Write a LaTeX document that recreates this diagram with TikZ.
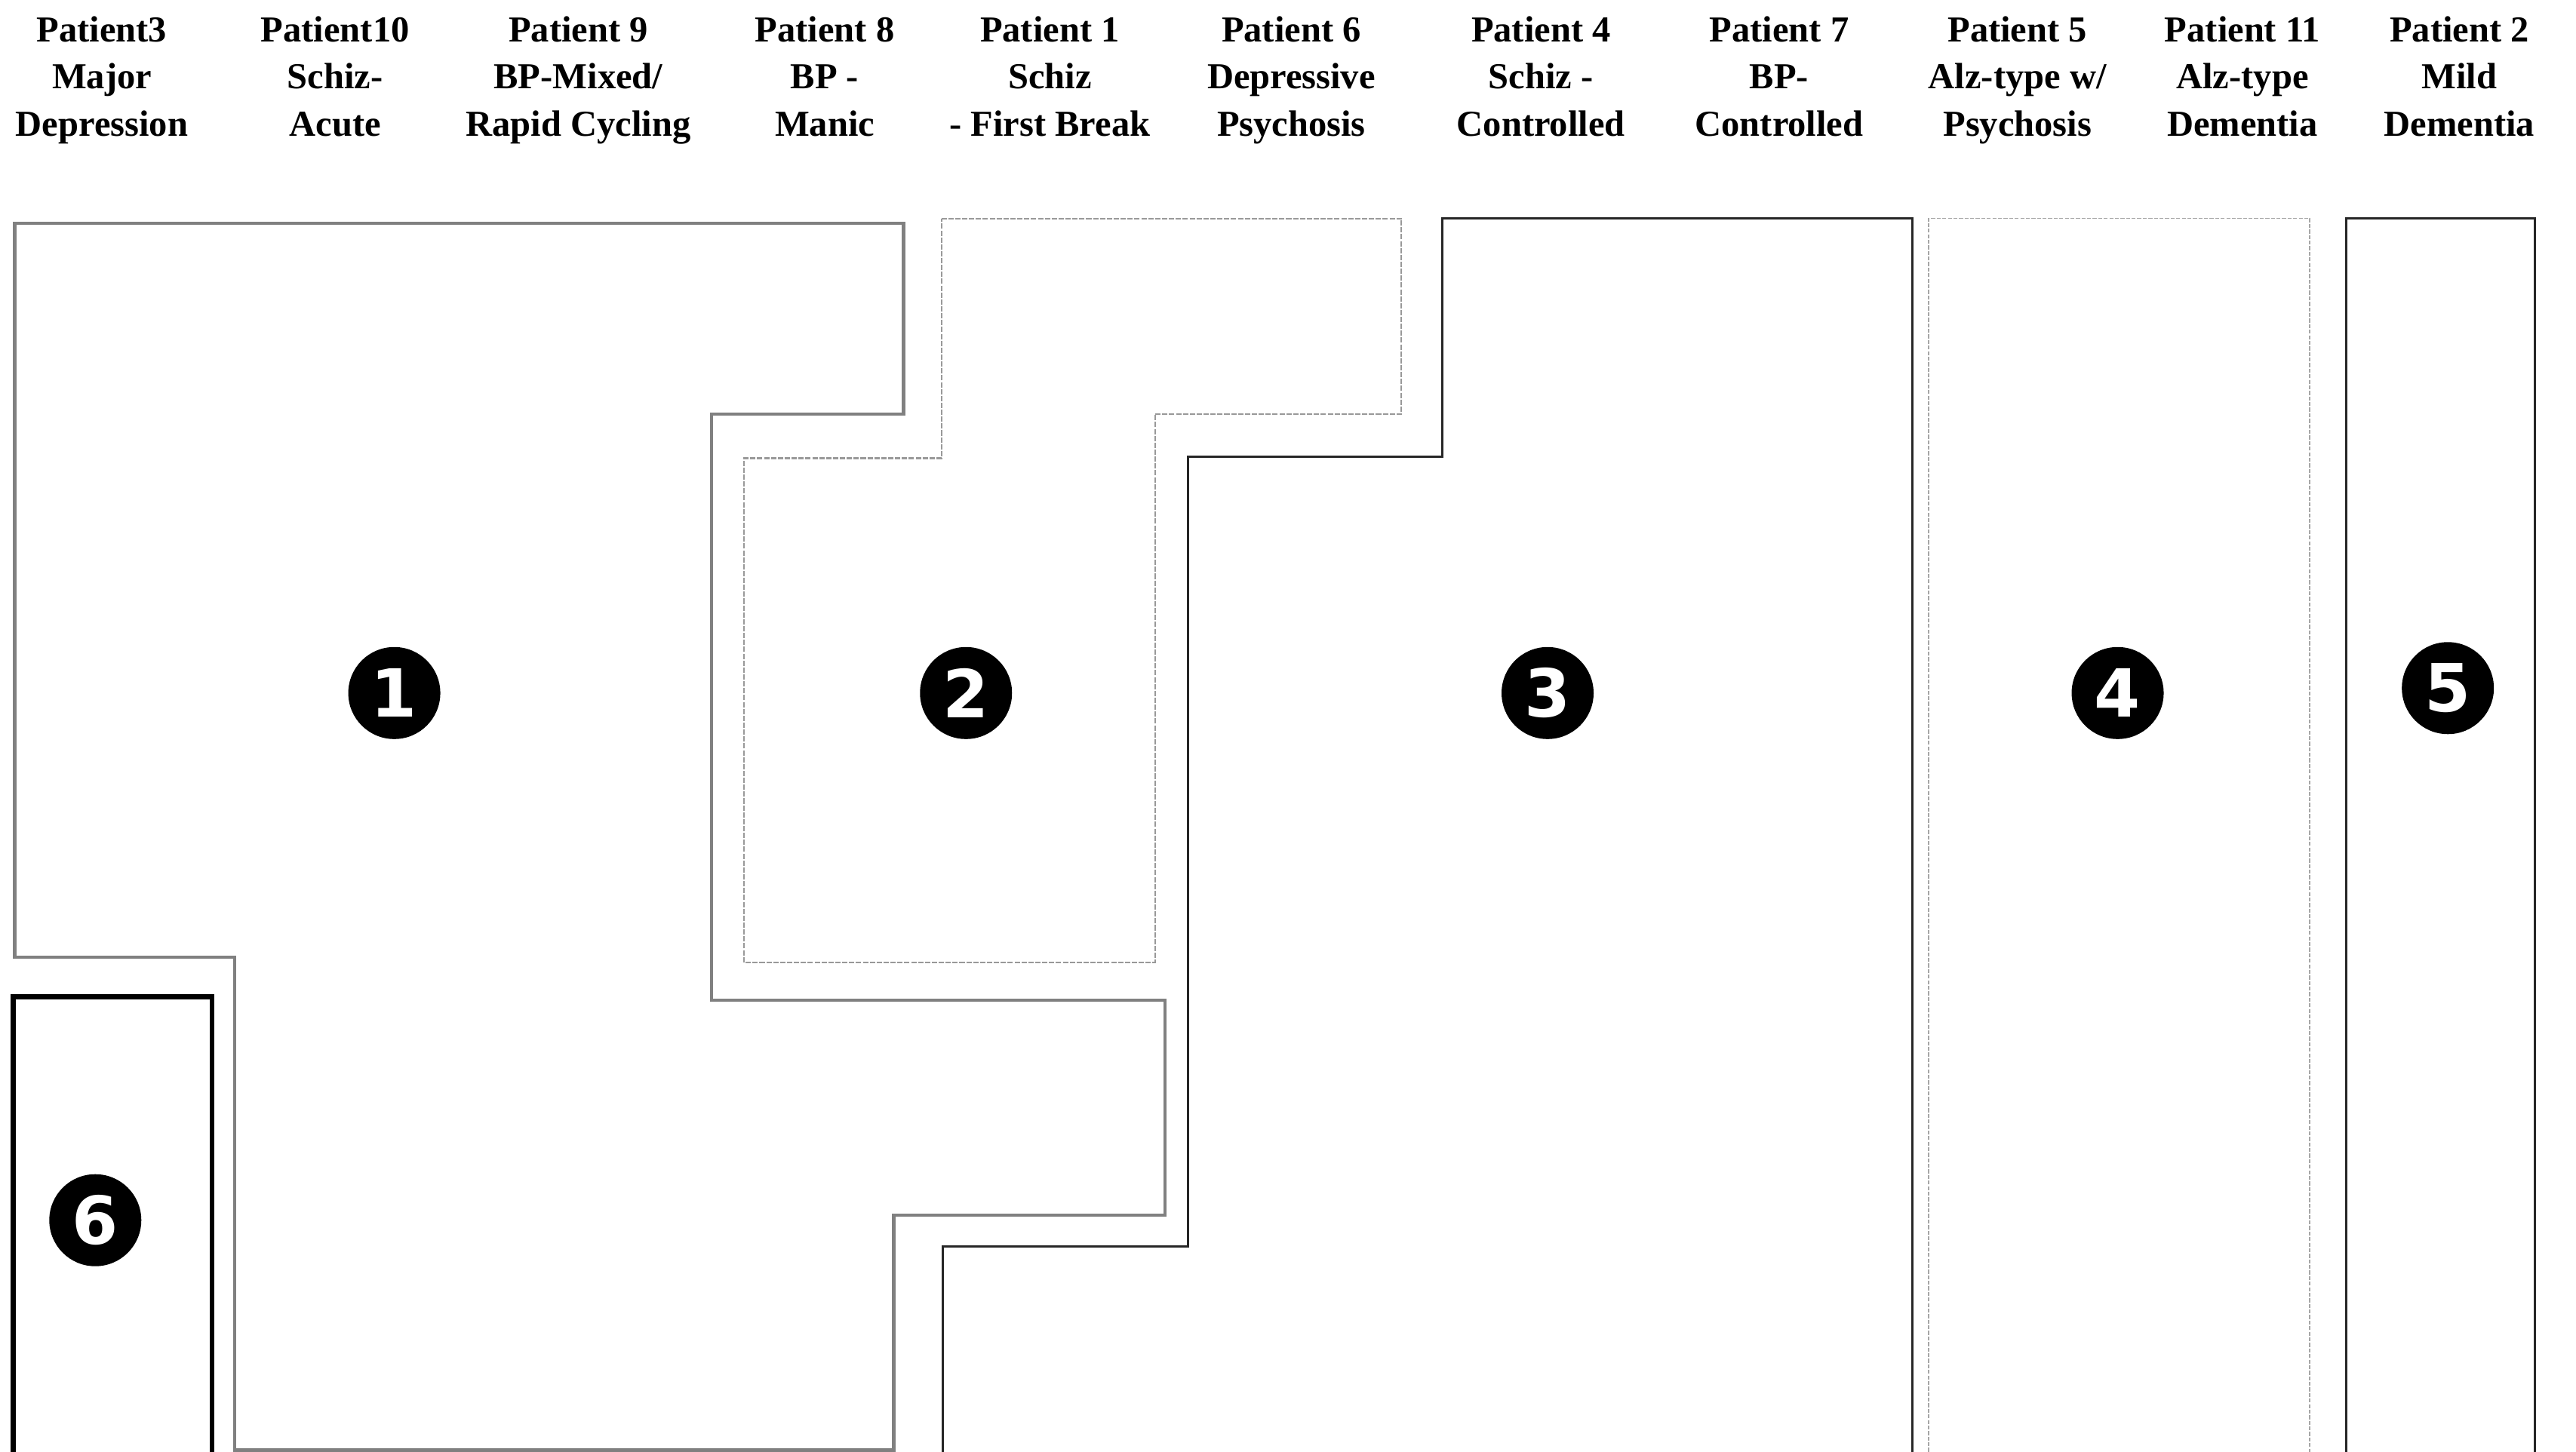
\documentclass[tikz,border=0pt]{standalone}
\usepackage{fontspec}
\setmainfont{Liberation Serif}
\newfontfamily\numfont{DejaVu Sans}
\begin{document}
\begin{tikzpicture}[x=0.02177cm,y=-0.02177cm,
  hdr/.style={anchor=north,align=center,inner sep=0pt,font=\bfseries\fontsize{13.8}{17.8}\selectfont},
  badge/.style={circle,fill=black,text=white,minimum size=1.22cm,inner sep=0pt,font=\numfont\bfseries\fontsize{25}{25}\selectfont},
  regA/.style={draw=black!50,line width=1.2pt},
  regB/.style={draw=black!40,line width=0.6pt,dash pattern=on 2pt off 0.6pt},
  regC/.style={draw=black!85,line width=0.9pt},
  regD/.style={draw=black!35,line width=0.5pt,dash pattern=on 1.5pt off 0.6pt},
  regE/.style={draw=black!85,line width=0.9pt},
  regF/.style={draw=black,line width=1.9pt}]
\useasboundingbox (0,0) rectangle (1568,884);
% headers
\node[hdr] (h1) at (62,9.5) {Patient3\\Major\\Depression};
\node[hdr] (h2) at (204,9.5) {Patient10\\Schiz-\\Acute};
\node[hdr] (h3) at (352,9.5) {Patient 9\\BP-Mixed/\\Rapid Cycling};
\node[hdr] (h4) at (502,9.5) {Patient 8\\BP -\\Manic};
\node[hdr] (h5) at (639,9.5) {Patient 1\\Schiz\\- First Break};
\node[hdr] (h6) at (786,9.5) {Patient 6\\Depressive\\Psychosis};
\node[hdr] (h7) at (938,9.5) {Patient 4\\Schiz -\\Controlled};
\node[hdr] (h8) at (1083,9.5) {Patient 7\\BP-\\Controlled};
\node[hdr] (h9) at (1228,9.5) {Patient 5\\Alz-type w/\\Psychosis};
\node[hdr] (h10) at (1365,9.5) {Patient 11\\Alz-type\\Dementia};
\node[hdr] (h11) at (1497,9.5) {Patient 2\\Mild\\Dementia};
% region outlines
\draw[regA] (9,136) -- (550,136) -- (550,252) -- (433,252) -- (433,609) -- (709,609) -- (709,740) -- (544,740) -- (544,883) -- (143,883) -- (143,583) -- (9,583) -- cycle;
\draw[regB] (573,133) -- (853,133) -- (853,252) -- (703,252) -- (703,586) -- (453,586) -- (453,279) -- (573,279) -- cycle;
\draw[regC] (574,884) -- (574,759) -- (723,759) -- (723,278) -- (878,278) -- (878,133) -- (1164,133) -- (1164,884);
\draw[regD] (1174,884) -- (1174,133) -- (1406,133) -- (1406,884);
\draw[regE] (1428,884) -- (1428,133) -- (1543,133) -- (1543,884);
\draw[regF] (8,884) -- (8,607) -- (129,607) -- (129,884);
% region numbers
\node[badge] (r1) at (240,422) {1};
\node[badge] (r2) at (588,422) {2};
\node[badge] (r3) at (942,422) {3};
\node[badge] (r4) at (1289,422) {4};
\node[badge] (r5) at (1490,419) {5};
\node[badge] (r6) at (58,743) {6};
\end{tikzpicture}
\end{document}
